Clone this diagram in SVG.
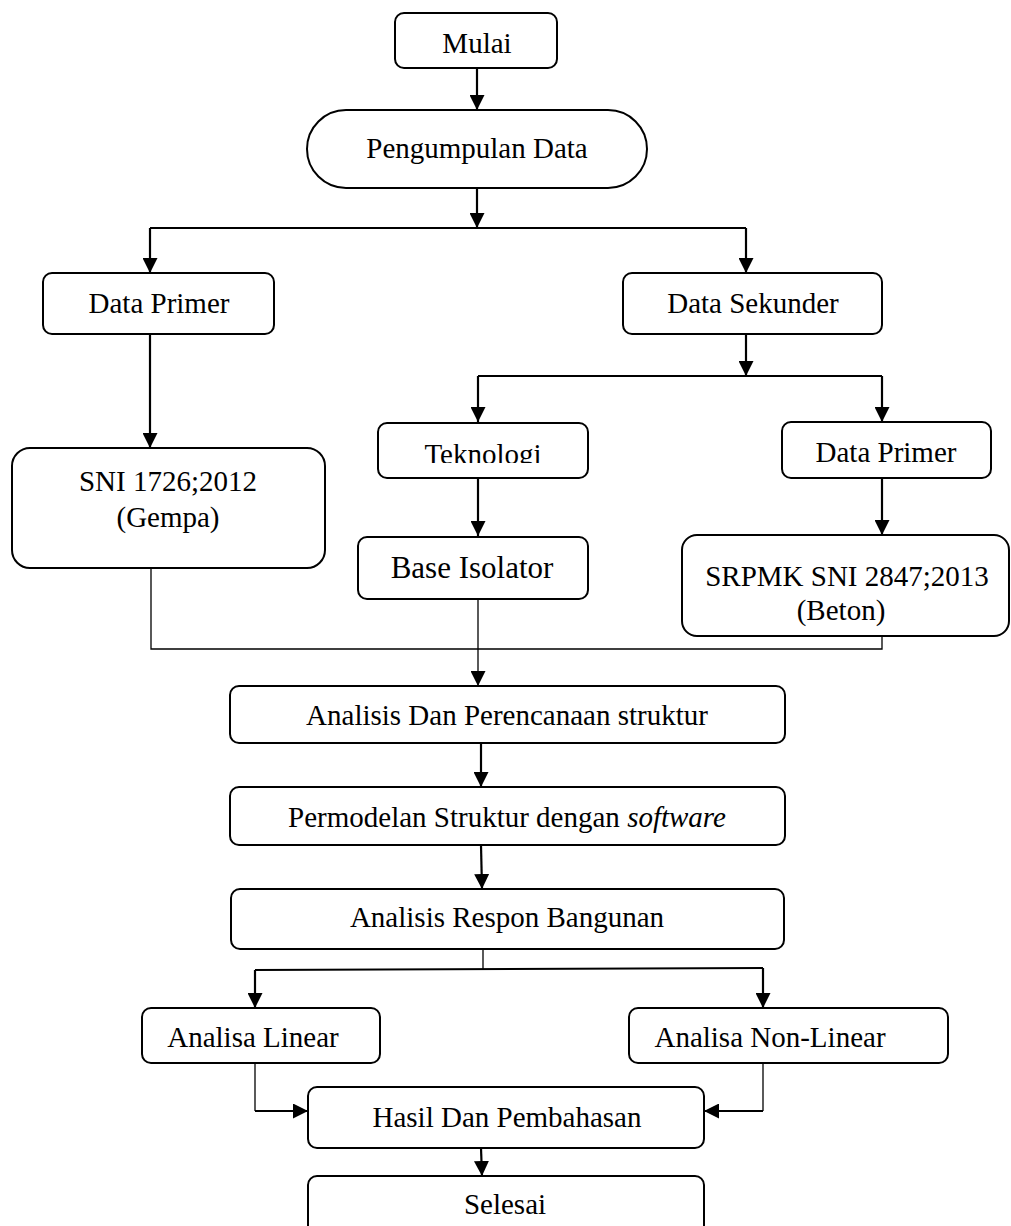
<svg xmlns="http://www.w3.org/2000/svg" width="1011" height="1226" viewBox="0 0 1011 1226">
<style>
.box{fill:#fff;stroke:#000;stroke-width:2}
.t{font-family:"Liberation Serif","Times New Roman",serif;font-size:29px;fill:#000;text-anchor:middle}
.c{fill:none;stroke:#000;stroke-width:2.2}
.thin{fill:none;stroke:#000;stroke-width:1.3}
</style>
<defs>
<marker id="ah" markerUnits="userSpaceOnUse" markerWidth="15" markerHeight="15" refX="15" refY="7.5" orient="auto" viewBox="0 0 15 15">
<path d="M0,0 L15,7.5 L0,15 z" fill="#000"/>
</marker>
<clipPath id="tekclip"><rect x="378" y="423" width="210" height="40"/></clipPath>
</defs>
<rect width="1011" height="1226" fill="#fff"/>
<g id="connectors">
<path class="c" d="M477,68 V110" marker-end="url(#ah)"/>
<path class="c" d="M477,188 V228" marker-end="url(#ah)"/>
<path class="c" d="M150,228 H746"/>
<path class="c" d="M150,228 V273" marker-end="url(#ah)"/>
<path class="c" d="M746,228 V273" marker-end="url(#ah)"/>
<path class="c" d="M150,334 V448" marker-end="url(#ah)"/>
<path class="c" d="M746,334 V376" marker-end="url(#ah)"/>
<path class="c" d="M478,376 H882"/>
<path class="c" d="M478,376 V422" marker-end="url(#ah)"/>
<path class="c" d="M882,376 V422" marker-end="url(#ah)"/>
<path class="c" d="M478,478 V536" marker-end="url(#ah)"/>
<path class="c" d="M882,478 V535" marker-end="url(#ah)"/>
<path class="thin" d="M151,568 V649 H882 V636"/>
<path class="thin" d="M478,599 V686" marker-end="url(#ah)"/>
<path class="c" d="M481,743 V787" marker-end="url(#ah)"/>
<path class="c" d="M481,845 L482,889" marker-end="url(#ah)"/>
<path class="thin" d="M483,949 V969"/>
<path class="c" d="M255,970 L763,968"/>
<path class="c" d="M255,970 V1008" marker-end="url(#ah)"/>
<path class="c" d="M763,968 V1008" marker-end="url(#ah)"/>
<path class="thin" d="M255,1063 V1111"/>
<path class="c" d="M255,1111 H308" marker-end="url(#ah)"/>
<path class="thin" d="M763,1063 V1111"/>
<path class="c" d="M763,1111 H704" marker-end="url(#ah)"/>
<path class="c" d="M481,1148 L482,1176" marker-end="url(#ah)"/>
</g>
<g id="mulai"><rect class="box" x="395" y="13" width="162" height="55" rx="9"/><text class="t" x="477" y="53">Mulai</text></g>
<g id="pengumpulan"><rect class="box" x="307" y="110" width="340" height="78" rx="39"/><text class="t" x="477" y="158">Pengumpulan Data</text></g>
<g id="data-primer"><rect class="box" x="43" y="273" width="231" height="61" rx="9"/><text class="t" x="159" y="313">Data Primer</text></g>
<g id="data-sekunder"><rect class="box" x="623" y="273" width="259" height="61" rx="9"/><text class="t" x="753" y="313">Data Sekunder</text></g>
<g id="sni-gempa"><rect class="box" x="12" y="448" width="313" height="120" rx="18"/><text class="t" x="168" y="491">SNI 1726;2012</text><text class="t" x="168" y="527">(Gempa)</text></g>
<g id="teknologi"><rect class="box" x="378" y="423" width="210" height="55" rx="9"/><text class="t" x="483" y="464" clip-path="url(#tekclip)">Teknologi</text></g>
<g id="data-primer-2"><rect class="box" x="782" y="422" width="209" height="56" rx="9"/><text class="t" x="886" y="462">Data Primer</text></g>
<g id="base-isolator"><rect class="box" x="358" y="537" width="230" height="62" rx="9"/><text class="t" x="472" y="578" style="font-size:31px">Base Isolator</text></g>
<g id="srpmk"><rect class="box" x="682" y="535" width="327" height="101" rx="15"/><text class="t" x="847" y="586">SRPMK SNI 2847;2013</text><text class="t" x="841" y="620">(Beton)</text></g>
<g id="analisis-perencanaan"><rect class="box" x="230" y="686" width="555" height="57" rx="9"/><text class="t" x="507" y="725">Analisis Dan Perencanaan struktur</text></g>
<g id="permodelan"><rect class="box" x="230" y="787" width="555" height="58" rx="9"/><text class="t" x="507" y="827">Permodelan Struktur dengan <tspan font-style="italic">software</tspan></text></g>
<g id="analisis-respon"><rect class="box" x="231" y="889" width="553" height="60" rx="9"/><text class="t" x="507" y="927">Analisis Respon Bangunan</text></g>
<g id="analisa-linear"><rect class="box" x="142" y="1008" width="238" height="55" rx="9"/><text class="t" x="253" y="1047">Analisa Linear</text></g>
<g id="analisa-nonlinear"><rect class="box" x="629" y="1008" width="319" height="55" rx="9"/><text class="t" x="770" y="1047">Analisa Non-Linear</text></g>
<g id="hasil"><rect class="box" x="308" y="1087" width="396" height="61" rx="9"/><text class="t" x="507" y="1127">Hasil Dan Pembahasan</text></g>
<g id="selesai"><rect class="box" x="308" y="1176" width="396" height="64" rx="9"/><text class="t" x="505" y="1214">Selesai</text></g>
</svg>
